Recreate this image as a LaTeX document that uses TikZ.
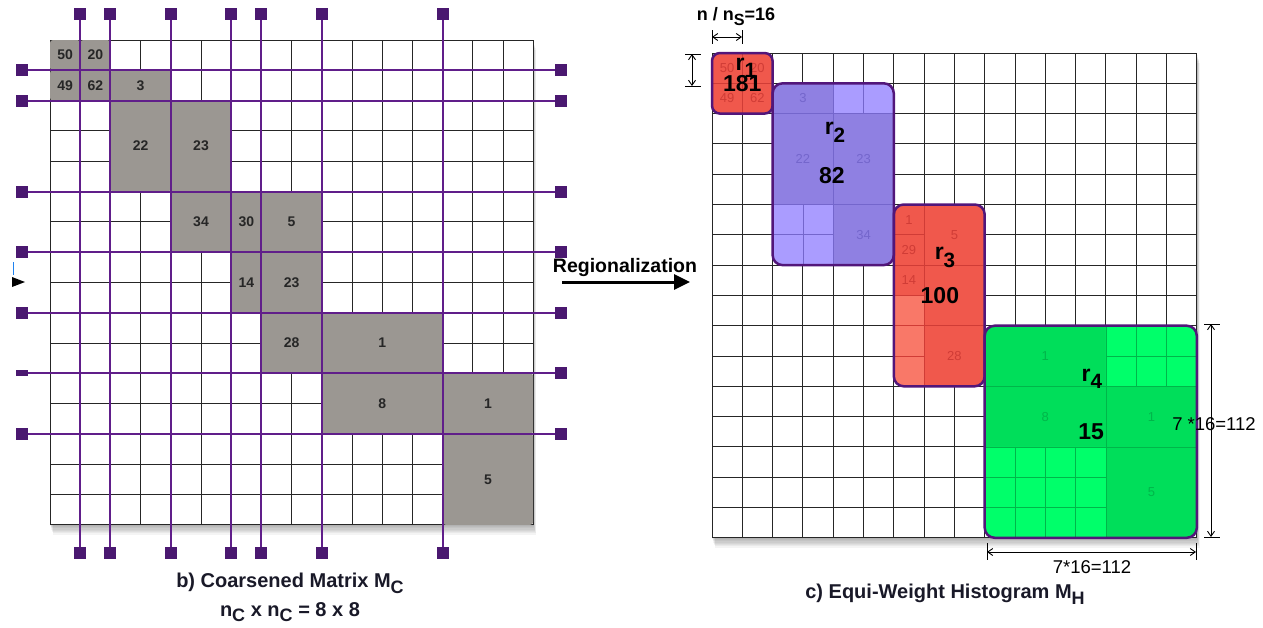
\documentclass[tikz,border=0pt]{standalone}
\usepackage{fontspec}
\setmainfont{Liberation Sans}
\usetikzlibrary{arrows.meta}
\definecolor{coarse}{RGB}{155,151,146}
\definecolor{part}{RGB}{96,30,138}
\definecolor{studc}{RGB}{74,24,112}
\definecolor{outl}{RGB}{82,22,122}
\definecolor{redD}{RGB}{240,88,76}
\definecolor{redL}{RGB}{249,120,104}
\definecolor{redT}{RGB}{208,60,54}
\definecolor{purD}{RGB}{143,128,226}
\definecolor{purL}{RGB}{170,156,255}
\definecolor{purT}{RGB}{116,102,204}
\definecolor{grnD}{RGB}{0,222,90}
\definecolor{grnL}{RGB}{0,255,106}
\definecolor{grnT}{RGB}{0,182,74}
\definecolor{captc}{RGB}{25,25,40}
\definecolor{bluetick}{RGB}{30,130,240}
\newcommand\lsub[2][-.6ex]{\raisebox{#1}{\scalebox{.9}{#2}}}

\begin{document}
\begin{tikzpicture}[x=1pt,y=-1pt,
 cell/.style={draw=black!85,line width=1pt},
 val/.style={font=\bfseries\fontsize{14}{16}\selectfont,text=black!85,inner sep=0pt},
 faint/.style={font=\fontsize{13}{15}\selectfont,inner sep=0pt},
 big/.style={font=\bfseries\fontsize{23}{26}\selectfont,inner sep=0pt},
 stud/.style={rectangle,fill=studc,minimum size=12pt,inner sep=0pt},
 cut/.style={draw=part,line width=2pt},
 region/.style={draw=outl,line width=2.5pt,rounded corners=#1},
 tint/.style={draw=#1,line width=.7pt},
 capt/.style={font=\bfseries\fontsize{20}{24}\selectfont,text=captc,anchor=base},
 dimtxt/.style={font=\fontsize{18.5}{22}\selectfont,anchor=base},
 dimarr/.style={{Straight Barb[length=5pt,width=7pt]}-{Straight Barb[length=5pt,width=7pt]},line width=.9pt},
 dimtick/.style={line width=.9pt},
 bigarrow/.style={-{Triangle[length=16pt,width=15pt]},line width=3pt}
]
\useasboundingbox (0,0) rectangle (1263,627);

% b) coarsened matrix
\begin{scope}[shift={(50,40)},x=30.2pt,y=-30.3pt]
 \foreach \s in {1,...,8}
 \fill[black,opacity=.045] (.012*\s,.04*\s) rectangle (16+.012*\s,16+.04*\s);
 \fill[white] (0,0) rectangle (16,16);
 \foreach \i in {0,...,16}
 \draw[cell] (\i,0) -- (\i,16) (0,\i) -- (16,\i);
 \foreach \a/\b/\c/\d/\v [count=\k] in {0/0/1/1/50,1/0/2/1/20,0/1/1/2/49,1/1/2/2/62,
 2/1/4/2/3,2/2/4/5/22,4/2/6/5/23,4/5/6/7/34,6/5/7/7/30,7/5/9/7/5,6/7/7/9/14,
 7/7/9/9/23,7/9/9/11/28,9/9/13/11/1,9/11/13/13/8,13/11/16/13/1,13/13/16/16/5}{
 \fill[coarse,rounded corners=3pt] (\a,\b) rectangle (\c,\d);
 \node[val] (mc\k) at ({(\a+\c)/2},{(\b+\d)/2}) {\v};
 }
 \foreach \c [count=\k] in {1,2,4,6,7,9,13}{
 \node[stud] (vt\k) at (\c,-.86) {};
 \node[stud] (vb\k) at (\c,16.93) {};
 \draw[cut] (vt\k) -- (vb\k);
 }
 \foreach \r/\h [count=\k] in {1/12,2/12,5/12,7/12,9/12,11/6,13/12}{
 \node[stud,minimum height=\h pt] (hl\k) at (-.93,\r) {};
 \node[stud] (hr\k) at (16.92,\r) {};
 \draw[cut] (hl\k) -- (hr\k);
 }
\end{scope}
\fill (12,277) -- (25,282) -- (12,287) -- cycle;
\draw[bluetick,line width=1pt] (13,262) -- (13,275);

\node[capt] (captb) at (290,587) {b) Coarsened Matrix M\lsub[-.6ex]{C}};
\node[capt] (captn) at (290,616) {n\lsub[-.5ex]{C} x n\lsub[-.5ex]{C} = 8 x 8};

% regionalization
\node[font=\bfseries\fontsize{19.5}{22}\selectfont,anchor=base] (regtxt) at (625,272) {Regionalization};
\coordinate (regA) at (562,282);
\coordinate (regB) at (690,282);
\draw[bigarrow] (regA) -- (regB);

% c) equi-weight histogram
\begin{scope}[shift={(712,53)},x=30.3pt,y=-30.3pt]
 \foreach \s in {1,...,8}
 \fill[black,opacity=.045] (.012*\s,.04*\s) rectangle (16+.012*\s,16+.04*\s);
 \fill[white] (0,0) rectangle (16,16);
 \foreach \i in {0,...,16}
 \draw[cell] (\i,0) -- (\i,16) (0,\i) -- (16,\i);
 % r1
 \begin{scope}
 \clip[rounded corners=8pt] (0,0) rectangle (2,2);
 \fill[redD] (0,0) rectangle (2,2);
 \draw[tint=redT] (1,0) -- (1,2) (0,1) -- (2,1);
 \end{scope}
 % r2
 \begin{scope}
 \clip[rounded corners=10pt] (2,1) rectangle (6,7);
 \fill[purD] (2,1) rectangle (6,7);
 \fill[purL] (4,1) rectangle (6,2) (2,5) rectangle (4,7);
 \draw[tint=purT] (4,1) -- (4,7) (2,2) -- (6,2) (2,5) -- (6,5)
 (5,1) -- (5,2) (3,5) -- (3,7) (2,6) -- (4,6);
 \end{scope}
 % r3
 \begin{scope}
 \clip[rounded corners=10pt] (6,5) rectangle (9,11);
 \fill[redD] (6,5) rectangle (9,11);
 \fill[redL] (6,8) rectangle (7,11);
 \draw[tint=redT] (7,5) -- (7,11) (6,7) -- (9,7) (6,9) -- (9,9)
 (6,6) -- (7,6) (6,8) -- (7,8) (6,10) -- (7,10);
 \end{scope}
 % r4
 \begin{scope}
 \clip[rounded corners=10pt] (9,9) rectangle (16,16);
 \fill[grnD] (9,9) rectangle (16,16);
 \fill[grnL] (13,9) rectangle (16,11) (9,13) rectangle (13,16);
 \draw[tint=grnT] (13,9) -- (13,16) (9,11) -- (16,11) (9,13) -- (16,13)
 (14,9) -- (14,11) (15,9) -- (15,11) (13,10) -- (16,10)
 (10,13) -- (10,16) (11,13) -- (11,16) (12,13) -- (12,16)
 (9,14) -- (13,14) (9,15) -- (13,15);
 \end{scope}
 \foreach \x/\y/\v/\c [count=\k] in {.5/.5/50/redT,1.5/.5/20/redT,.5/1.5/49/redT,1.5/1.5/62/redT,
 3/1.5/3/purT,3/3.5/22/purT,5/3.5/23/purT,5/6/34/purT,
 6.5/5.5/1/redT,6.5/6.5/29/redT,6.5/7.5/14/redT,8/6/5/redT,8/10/28/redT,
 11/10/1/grnT,11/12/8/grnT,14.5/12/1/grnT,14.5/14.5/5/grnT}
 \node[faint,text=\c] (fv\k) at (\x,\y) {\v};
 \draw[region=8pt] (0,0) rectangle (2,2);
 \draw[region=10pt] (2,1) rectangle (6,7);
 \draw[region=10pt] (6,5) rectangle (9,11);
 \draw[region=10pt] (9,9) rectangle (16,16);
 \node[big] (r1) at (1.12,.5) {r\lsub{1}};
 \node[big] (w1) at (1,1.02) {181};
 \node[big] (r2) at (4.06,2.62) {r\lsub{2}};
 \node[big] (w2) at (3.96,4.03) {82};
 \node[big] (r3) at (7.69,6.75) {r\lsub{3}};
 \node[big] (w3) at (7.52,8.02) {100};
 \node[big] (r4) at (12.54,10.75) {r\lsub{4}};
 \node[big] (w4) at (12.51,12.51) {15};
\end{scope}

% dimensions
\node[font=\bfseries\fontsize{18}{22}\selectfont,anchor=base] (nns) at (736,20) {n / n\lsub{S}=16};
\draw[dimtick] (712,30) -- (712,44) (742,30) -- (742,44);
\coordinate (dtA) at (712,37);
\coordinate (dtB) at (742,37);
\draw[dimarr] (dtA) -- (dtB);
\draw[dimtick] (685,54) -- (701,54) (685,86) -- (701,86);
\coordinate (dlA) at (692,54);
\coordinate (dlB) at (692,86);
\draw[dimarr] (dlA) -- (dlB);
\draw[dimtick] (1204,324) -- (1220,324) (1204,537) -- (1220,537);
\coordinate (drA) at (1211,324);
\coordinate (drB) at (1211,537);
\draw[dimarr] (drA) -- (drB);
\node[dimtxt] (hgt) at (1214,430) {7 *16=112};
\draw[dimtick] (987,543) -- (987,560) (1196,543) -- (1196,560);
\coordinate (dbA) at (987,552);
\coordinate (dbB) at (1196,552);
\draw[dimarr] (dbA) -- (dbB);
\node[dimtxt] (wid) at (1092,573) {7*16=112};

\node[capt] (captc) at (945,598) {c) Equi-Weight Histogram M\lsub[-.65ex]{H}};
\end{tikzpicture}
\end{document}
